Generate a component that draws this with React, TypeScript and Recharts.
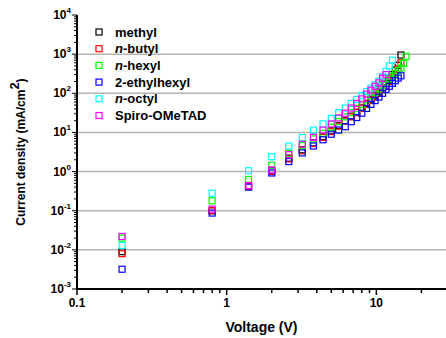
import React from 'react';
import { ScatterChart, Scatter, XAxis, YAxis, ReferenceLine } from 'recharts';

// applied voltage (V), shared by all devices; shorter series just stop earlier
const voltage = [
  0.2, 0.8, 1.4, 2.0, 2.6, 3.2, 3.8, 4.4, 5.0, 5.6, 6.2, 6.8, 7.4, 8.0,
  8.6, 9.2, 9.8, 10.4, 11.0, 11.6, 12.2, 12.8, 13.4, 14.0, 14.6, 15.2, 15.8,
];

// current density (mA/cm2)
const methyl = [
  0.009, 0.1, 0.42, 1.05, 2.2, 3.6, 5.4, 7.8, 11, 15, 20, 26, 33, 42,
  55, 70, 88, 110, 140, 180, 230, 300, 390, 520, 950,
];
const nButyl = [
  0.008, 0.1, 0.42, 1.0, 2.1, 3.4, 5.2, 7.5, 10.5, 14.5, 19.5, 25, 32, 41,
  53, 66, 82, 102, 128, 160, 200, 250, 320, 420, 600,
];
const nHexyl = [
  0.02, 0.18, 0.63, 1.45, 2.9, 4.6, 6.8, 9.5, 13.5, 18.8, 25, 32, 41, 52,
  68, 85, 105, 130, 160, 195, 230, 270, 320, 380, 440, 580, 880,
];
const ethylhexyl = [
  0.0032, 0.087, 0.4, 0.92, 1.8, 3.0, 4.5, 6.5, 9.0, 11.5, 14, 18.8, 24, 31,
  41, 52, 65, 80, 100, 125, 150, 180, 210, 245, 280,
];
const nOctyl = [
  0.013, 0.28, 1.05, 2.4, 4.5, 7.4, 11.5, 16.5, 23, 32, 42, 55, 70, 88,
  110, 135, 165, 205, 265, 360, 500, 700,
];
const spiro = [
  0.022, 0.11, 0.44, 1.1, 2.7, 5.0, 7.5, 11.5, 16.5, 23.5, 31, 42, 55, 72,
  95, 120, 150, 185, 240, 300,
];

const xMajor = [0.1, 1, 10];
const xMinor = [0.2, 0.3, 0.4, 0.5, 0.6, 0.7, 0.8, 0.9, 2, 3, 4, 5, 6, 7, 8, 9, 20];
const yMajor = [0.001, 0.01, 0.1, 1, 10, 100, 1000, 10000];
const yMinor = yMajor.slice(0, -1).flatMap((d) => [2, 3, 4, 5, 6, 7, 8, 9].map((m) => m * d));
const gridLevels = [0.01, 0.1, 1, 10, 100, 1000];

const font = '"Liberation Sans", Arial, sans-serif';

const series = [
  { name: 'methyl', italic: '', rest: 'methyl', color: '#000000', values: methyl },
  { name: 'n-butyl', italic: 'n', rest: '-butyl', color: '#ff0000', values: nButyl },
  { name: 'n-hexyl', italic: 'n', rest: '-hexyl', color: '#00ff00', values: nHexyl },
  { name: '2-ethylhexyl', italic: '', rest: '2-ethylhexyl', color: '#0000ff', values: ethylhexyl },
  { name: 'n-octyl', italic: 'n', rest: '-octyl', color: '#00ffff', values: nOctyl },
  { name: 'Spiro-OMeTAD', italic: '', rest: 'Spiro-OMeTAD', color: '#ff00ff', values: spiro },
];

const toPoints = (values: number[]) => values.map((j, i) => ({ v: voltage[i], j }));

const square = (color: string) => (props: any) => (
  <rect x={props.cx - 3} y={props.cy - 3} width={6} height={6} fill="none" stroke={color} strokeWidth={1.2} />
);

const BottomTick = (props: any) => {
  const { x, y, payload } = props;
  const major = xMajor.includes(payload.value);
  return (
    <g>
      <line x1={x} y1={y} x2={x} y2={y + (major ? 6 : 4)} stroke="#000" strokeWidth={1.5} />
      {major && (
        <text x={x} y={y + 18} textAnchor="middle" fontFamily={font} fontWeight="bold" fontSize={12} fill="#000">
          {payload.value}
        </text>
      )}
    </g>
  );
};

const TopTick = (props: any) => {
  const { x, y, payload } = props;
  const major = xMajor.includes(payload.value);
  return <line x1={x} y1={y} x2={x} y2={y + (major ? 4 : 3)} stroke="#000" strokeWidth={1.5} />;
};

const LeftTick = (props: any) => {
  const { x, y, payload } = props;
  const major = yMajor.includes(payload.value);
  const exp = Math.round(Math.log10(payload.value));
  return (
    <g>
      <line x1={x - (major ? 5 : 3)} y1={y} x2={x} y2={y} stroke="#000" strokeWidth={1} />
      {major && (
        <text x={x - 6} y={y + 4} textAnchor="end" fontFamily={font} fontWeight="bold" fontSize={12} fill="#000">
          10
          <tspan dy={-6} fontSize={8}>{exp}</tspan>
        </text>
      )}
    </g>
  );
};

const YTitle = (props: any) => {
  const vb = props.viewBox || {};
  const cx = 25;
  const cy = vb.y + vb.height / 2;
  return (
    <text
      transform={`translate(${cx},${cy}) rotate(-90)`}
      textAnchor="middle"
      fontFamily={font}
      fontWeight="bold"
      fontSize={12}
      fill="#000"
    >
      Current density (mA/cm
      <tspan dy={-6} fontSize={13}>2</tspan>
      <tspan dy={6}>)</tspan>
    </text>
  );
};

const XTitle = (props: any) => {
  const vb = props.viewBox || {};
  return (
    <text x={vb.x + vb.width / 2} y={332} textAnchor="middle" fontFamily={font} fontWeight="bold" fontSize={14} fill="#000">
      Voltage (V)
    </text>
  );
};

function LegendBox() {
  return (
    <svg width={160} height={110} style={{ position: 'absolute', left: 90, top: 22 }}>
      {series.map((s, i) => {
        const cy = 10 + i * 16.7;
        return (
          <g key={s.name}>
            <rect x={6} y={cy - 3} width={6} height={6} fill="none" stroke={s.color} strokeWidth={1.2} />
            <text x={25} y={cy + 4.5} fontFamily={font} fontWeight="bold" fontSize={13} fill="#000">
              {s.italic && <tspan fontStyle="italic">{s.italic}</tspan>}
              <tspan>{s.rest}</tspan>
            </text>
          </g>
        );
      })}
    </svg>
  );
}

export default function App() {
  return (
    <div style={{ position: 'absolute', left: 0, top: 0, width: 446, height: 338, background: '#fff' }}>
      <ScatterChart width={446} height={338} margin={{ top: 15, right: 0, bottom: 0, left: 0 }}>
        <XAxis
          xAxisId="bottom"
          type="number"
          dataKey="v"
          scale="log"
          domain={[0.1, 29.2]}
          allowDataOverflow
          ticks={[...xMajor, ...xMinor]}
          interval={0}
          height={49}
          tickSize={0}
          tickMargin={0}
          tickLine={false}
          tick={<BottomTick />}
          axisLine={{ stroke: '#000', strokeWidth: 2 }}
          label={<XTitle />}
        />
        <XAxis
          xAxisId="top"
          orientation="top"
          type="number"
          scale="log"
          domain={[0.1, 29.2]}
          allowDataOverflow
          ticks={[...xMajor, ...xMinor]}
          interval={0}
          height={0}
          tickSize={0}
          tickMargin={0}
          tickLine={false}
          tick={<TopTick />}
          axisLine={{ stroke: '#000', strokeWidth: 2 }}
        />
        <YAxis
          type="number"
          dataKey="j"
          scale="log"
          domain={[0.001, 10000]}
          allowDataOverflow
          ticks={[...yMajor, ...yMinor]}
          interval={0}
          width={77}
          tickSize={0}
          tickMargin={0}
          tickLine={false}
          tick={<LeftTick />}
          axisLine={{ stroke: '#000', strokeWidth: 2 }}
          label={<YTitle />}
        />
        {gridLevels.map((g) => (
          <ReferenceLine key={g} xAxisId="bottom" y={g} stroke="#b4b4b4" strokeWidth={1.5} />
        ))}
        {series.map((s) => (
          <Scatter
            key={s.name}
            name={s.name}
            xAxisId="bottom"
            data={toPoints(s.values)}
            shape={square(s.color)}
            isAnimationActive={false}
          />
        ))}
      </ScatterChart>
      <LegendBox />
    </div>
  );
}
